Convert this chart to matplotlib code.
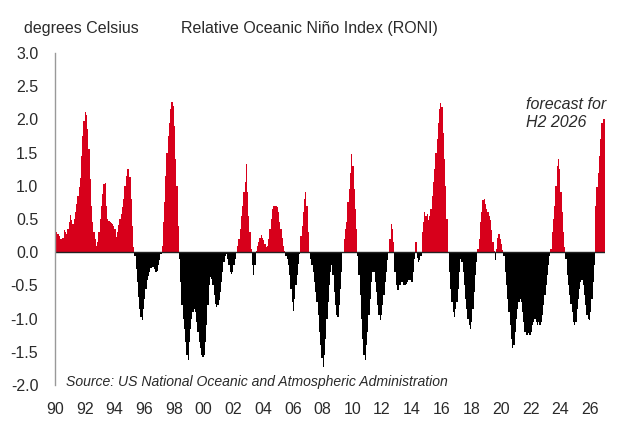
import numpy as np
import matplotlib
matplotlib.use("Agg")
import matplotlib.pyplot as plt

# monthly RONI values (degrees Celsius), Jan 1990 .. Dec 2026
start_year = 1990

roni_1990s = [
    0.31, 0.31, 0.28, 0.24, 0.20, 0.20, 0.22, 0.33, 0.30, 0.28, 0.35, 0.45,   # 1990
    0.56, 0.48, 0.43, 0.50, 0.60, 0.72, 0.85, 0.98, 1.12, 1.45, 1.75, 1.98,   # 1991
    2.11, 2.06, 1.85, 1.55, 1.10, 0.70, 0.45, 0.30, 0.20, 0.10, 0.15, 0.30,   # 1992
    0.50, 0.70, 0.88, 1.02, 1.04, 0.70, 0.50, 0.47, 0.46, 0.44, 0.43, 0.40,   # 1993
    0.35, 0.23, 0.30, 0.41, 0.50, 0.57, 0.68, 0.80, 1.00, 1.15, 1.25, 1.26,   # 1994
    1.13, 0.80, 0.40, 0.08, -0.05, -0.25, -0.45, -0.68, -0.85, -0.97, -1.02, -0.85,  # 1995
    -0.70, -0.55, -0.42, -0.36, -0.30, -0.24, -0.22, -0.22, -0.25, -0.30, -0.28, -0.20,  # 1996
    -0.12, -0.02, 0.10, 0.45, 0.75, 1.15, 1.50, 1.75, 1.95, 2.15, 2.26, 2.20,  # 1997
    1.90, 1.40, 1.00, 0.40, -0.10, -0.45, -0.80, -1.00, -1.15, -1.35, -1.55, -1.62,  # 1998
    -1.35, -1.15, -1.00, -0.90, -0.85, -0.90, -1.05, -1.20, -1.35, -1.45, -1.55, -1.58,  # 1999
]
roni_2000s = [
    -1.55, -1.35, -1.10, -0.80, -0.50, -0.37, -0.40, -0.50, -0.65, -0.78, -0.82, -0.80,  # 2000
    -0.72, -0.60, -0.45, -0.30, -0.15, -0.05, -0.02, -0.10, -0.20, -0.30, -0.33, -0.30,  # 2001
    -0.20, -0.10, 0.00, 0.10, 0.20, 0.35, 0.55, 0.70, 0.90, 1.05, 1.33, 0.90,  # 2002
    0.55, 0.30, 0.05, -0.20, -0.35, -0.20, 0.02, 0.10, 0.15, 0.22, 0.26, 0.22,  # 2003
    0.18, 0.12, 0.08, 0.10, 0.20, 0.35, 0.50, 0.65, 0.70, 0.70, 0.70, 0.68,  # 2004
    0.60, 0.45, 0.35, 0.22, 0.10, 0.02, -0.05, -0.10, -0.20, -0.35, -0.55, -0.75,  # 2005
    -0.88, -0.70, -0.50, -0.35, -0.18, -0.02, 0.25, 0.40, 0.60, 0.80, 0.90, 0.70,  # 2006
    0.30, 0.00, -0.10, -0.20, -0.30, -0.45, -0.60, -0.75, -0.95, -1.20, -1.40, -1.60,  # 2007
    -1.73, -1.55, -1.30, -1.00, -0.75, -0.50, -0.30, -0.20, -0.35, -0.60, -0.80, -0.95,  # 2008
    -0.97, -0.80, -0.55, -0.30, 0.00, 0.20, 0.35, 0.46, 0.75, 0.95, 1.20, 1.48,  # 2009
]
roni_2010s = [
    1.30, 0.95, 0.65, 0.35, -0.05, -0.35, -0.65, -1.00, -1.30, -1.55, -1.62, -1.40,  # 2010
    -1.20, -0.95, -0.70, -0.45, -0.30, -0.30, -0.45, -0.60, -0.80, -0.95, -1.02, -0.95,  # 2011
    -0.80, -0.65, -0.45, -0.30, -0.12, 0.00, 0.20, 0.43, 0.35, 0.15, -0.30, -0.50,  # 2012
    -0.57, -0.57, -0.50, -0.45, -0.45, -0.50, -0.50, -0.48, -0.45, -0.42, -0.42, -0.45,  # 2013
    -0.45, -0.30, -0.10, 0.16, -0.08, -0.15, -0.12, -0.05, 0.30, 0.45, 0.60, 0.55,  # 2014
    0.58, 0.48, 0.55, 0.65, 0.85, 1.05, 1.25, 1.50, 1.70, 1.95, 2.15, 2.24,  # 2015
    2.18, 1.80, 1.40, 1.00, 0.50, 0.00, -0.30, -0.55, -0.75, -0.90, -0.97, -0.85,  # 2016
    -0.75, -0.55, -0.30, -0.10, -0.15, -0.30, -0.50, -0.70, -0.85, -1.00, -1.10, -1.15,  # 2017
    -1.05, -0.85, -0.60, -0.35, -0.15, 0.05, 0.20, 0.45, 0.60, 0.78, 0.80, 0.72,  # 2018
    0.65, 0.60, 0.55, 0.48, 0.33, 0.15, 0.02, -0.12, 0.05, 0.22, 0.28, 0.20,  # 2019
]
roni_2020s = [
    0.12, 0.03, -0.05, -0.30, -0.50, -0.70, -0.90, -1.10, -1.30, -1.45, -1.40, -1.20,  # 2020
    -1.00, -0.85, -0.75, -0.70, -0.75, -0.90, -1.05, -1.20, -1.25, -1.25, -1.22, -1.25,  # 2021
    -1.20, -1.10, -1.05, -1.00, -1.05, -1.10, -1.05, -1.10, -1.05, -0.95, -0.80, -0.65,  # 2022
    -0.50, -0.35, -0.20, -0.05, 0.05, 0.30, 0.50, 0.70, 1.00, 1.30, 1.41, 1.25,  # 2023
    0.90, 0.60, 0.30, 0.08, -0.10, -0.35, -0.50, -0.65, -0.78, -0.90, -1.05, -1.10,  # 2024
    -1.05, -0.85, -0.70, -0.55, -0.45, -0.42, -0.50, -0.65, -0.80, -0.95, -1.00, -1.02,  # 2025
    -0.90, -0.70, -0.45, -0.20, 0.70, 0.98, 1.20, 1.45, 1.70, 1.95, 2.00, 2.00,  # 2026
]

tick_years = list(range(1990, 2027, 2))
tick_labels = ["%02d" % (y % 100) for y in tick_years]
y_ticks = [-2.0, -1.5, -1.0, -0.5, 0.0, 0.5, 1.0, 1.5, 2.0, 2.5, 3.0]

red = "#d7001b"
txt = "#2a2a2a"

values = np.array(roni_1990s + roni_2000s + roni_2010s + roni_2020s)
edges = start_year + np.arange(len(values) + 1) / 12.0
pos = np.where(values > 0, values, 0.0)
neg = np.where(values < 0, values, 0.0)

plt.rcParams["font.family"] = ["Liberation Sans", "DejaVu Sans"]

fig = plt.figure(figsize=(6.21, 4.38), dpi=100)
ax = fig.add_axes([55 / 621, 53 / 438, 550 / 621, 332 / 438])

ax.stairs(pos, edges, baseline=0, fill=True, color=red, lw=0)
ax.stairs(neg, edges, baseline=0, fill=True, color="black", lw=0)
ax.axhline(0, color="#222222", lw=1.0)

ax.set_xlim(1990, 2027)
ax.set_ylim(-2.0, 3.0)
ax.set_xticks(tick_years)
ax.set_xticklabels(tick_labels)
ax.set_yticks(y_ticks)
ax.set_yticklabels(["%.1f" % v for v in y_ticks])
ax.tick_params(axis="both", length=0, labelsize=11.5, colors=txt)
ax.tick_params(axis="y", pad=12)
ax.tick_params(axis="x", pad=12)

for s in ["top", "right", "bottom"]:
    ax.spines[s].set_visible(False)
ax.spines["left"].set_color("#999999")
ax.spines["left"].set_linewidth(1.0)

fig.text(24 / 621, 1 - 29 / 438, "degrees Celsius", fontsize=11.5,
         color=txt, va="center", ha="left")
fig.text(309 / 621, 1 - 28 / 438, "Relative Oceanic Niño Index (RONI)",
         fontsize=11.5, color=txt, va="center", ha="center")
fig.text(66 / 621, 1 - 382 / 438,
         "Source: US National Oceanic and Atmospheric Administration",
         fontsize=10.1, style="italic", color=txt, va="center", ha="left")
fig.text(526 / 621, 1 - 113 / 438, "forecast for\nH2 2026", fontsize=11.5,
         style="italic", color=txt, va="center", ha="left",
         linespacing=1.25)

fig.savefig("out.png", dpi=100)
